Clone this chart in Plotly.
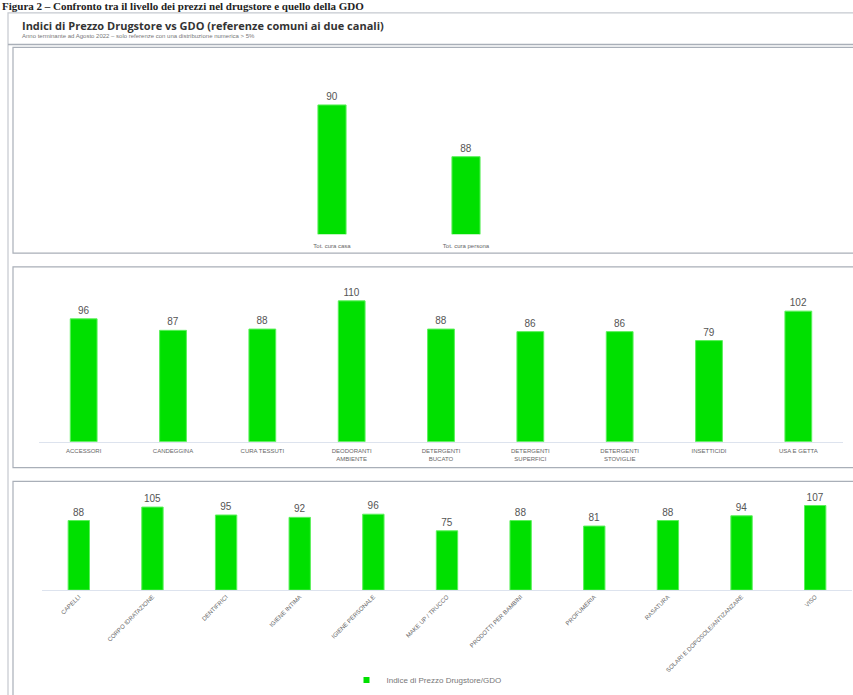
import plotly.graph_objects as go

# ---- data ----
tot_labels = ["Tot. cura casa", "Tot. cura persona"]
tot_values = [90, 88]

casa_labels = ["ACCESSORI", "CANDEGGINA", "CURA TESSUTI", "DEODORANTI<br>AMBIENTE",
               "DETERGENTI<br>BUCATO", "DETERGENTI<br>SUPERFICI", "DETERGENTI<br>STOVIGLIE",
               "INSETTICIDI", "USA E GETTA"]
casa_values = [96, 87, 88, 110, 88, 86, 86, 79, 102]

persona_labels = ["CAPELLI", "CORPO IDRATAZIONE", "DENTIFRICI", "IGIENE INTIMA",
                  "IGIENE PERSONALE", "MAKE UP / TRUCCO", "PRODOTTI PER BAMBINI",
                  "PROFUMERIA", "RASATURA", "SOLARI E DOPOSOLE/ANTIZANZARE", "VISO"]
persona_values = [88, 105, 95, 92, 96, 75, 88, 81, 88, 94, 107]

series_name = "Indice di Prezzo Drugstore/GDO"
GREEN = "#00e000"
W, H = 853, 695

def py(p):  # pixel-from-top -> paper y
    return 1 - p / H

def px(p):
    return p / W

fig = go.Figure()
common = dict(marker=dict(color=GREEN, line=dict(color="#5cf05c", width=1)),
              textposition="outside", cliponaxis=False, showlegend=False,
              textfont=dict(size=10, color="#555555", family="Liberation Sans"))

fig.add_trace(go.Bar(x=tot_labels, y=tot_values, text=tot_values, width=0.21,
                     name=series_name, xaxis="x", yaxis="y", **common))
fig.add_trace(go.Bar(x=casa_labels, y=casa_values, text=casa_values, width=0.3,
                     name=series_name, xaxis="x2", yaxis="y2", **common))
fig.add_trace(go.Bar(x=persona_labels, y=persona_values, text=persona_values, width=0.29,
                     name=series_name, xaxis="x3", yaxis="y3", **common))
# legend entry (small square marker like the reference)
fig.add_trace(go.Scatter(x=[None], y=[None], mode="markers", name=series_name,
                         marker=dict(symbol="square", size=6, color=GREEN),
                         showlegend=True, xaxis="x3", yaxis="y3"))

tickfont = dict(size=6, color="#666666", family="Liberation Sans")
hide_y = dict(visible=False, showgrid=False, zeroline=False, fixedrange=True)

fig.update_layout(
    width=W, height=H,
    margin=dict(l=0, r=0, t=0, b=0),
    paper_bgcolor="white", plot_bgcolor="white",
    showlegend=True,
    legend=dict(orientation="h", x=0.5, xanchor="center", y=py(688), yanchor="middle",
                font=dict(size=8, color="#777777", family="Liberation Sans"),
                itemwidth=30),
    xaxis=dict(domain=[px(265), px(533)], showline=False, ticks="outside", ticklen=6,
               tickcolor="rgba(0,0,0,0)", tickfont=tickfont, anchor="y"),
    yaxis=dict(domain=[py(237), py(80)], range=[85, 91], anchor="x", **hide_y),
    xaxis2=dict(domain=[px(39), px(843)], showline=True, linecolor="#dde3ee",
                ticks="outside", ticklen=3, tickcolor="rgba(0,0,0,0)",
                tickfont=tickfont, anchor="y2"),
    yaxis2=dict(domain=[py(447), py(294)], range=[0, 118], anchor="x2", **hide_y),
    xaxis3=dict(domain=[px(42), px(852)], showline=True, linecolor="#dde3ee", ticks="",
                tickangle=-45, tickfont=tickfont, anchor="y3"),
    yaxis3=dict(domain=[py(597), py(501)], range=[0, 120], anchor="x3", **hide_y),
)

# frames
def box(x0, y0, x1, y1, color="#a9afb8", w=1.2):
    fig.add_shape(type="rect", xref="paper", yref="paper",
                  x0=px(x0), x1=px(x1), y0=py(y1), y1=py(y0),
                  line=dict(color=color, width=w), fillcolor="rgba(0,0,0,0)")

box(8, 13, 860, 705, color="#c5c9cf")
fig.add_shape(type="line", xref="paper", yref="paper", x0=px(8), x1=1.01,
              y0=py(45), y1=py(45), line=dict(color="#a9afb8", width=1.5))
box(13, 48, 860, 256)
box(13, 270, 860, 473)
box(13, 487, 860, 705)

# captions
fig.add_annotation(xref="paper", yref="paper", x=0, y=py(6), xanchor="left", yanchor="middle",
                   text="<b>Figura 2 – Confronto tra il livello dei prezzi nel drugstore e quello della GDO</b>",
                   showarrow=False, font=dict(size=11, color="#222222", family="Liberation Serif"))
fig.add_annotation(xref="paper", yref="paper", x=px(20), y=py(26), xanchor="left", yanchor="middle",
                   text="<b>Indici di Prezzo Drugstore vs GDO (referenze comuni ai due canali)</b>",
                   showarrow=False, font=dict(size=11, color="#333333", family="Open Sans"))
fig.add_annotation(xref="paper", yref="paper", x=px(20), y=py(36), xanchor="left", yanchor="middle",
                   text="Anno terminante ad Agosto 2022 – solo referenze con una distribuzione numerica > 5%",
                   showarrow=False, font=dict(size=6, color="#777777", family="Liberation Sans"))

fig.write_html("out.html")
